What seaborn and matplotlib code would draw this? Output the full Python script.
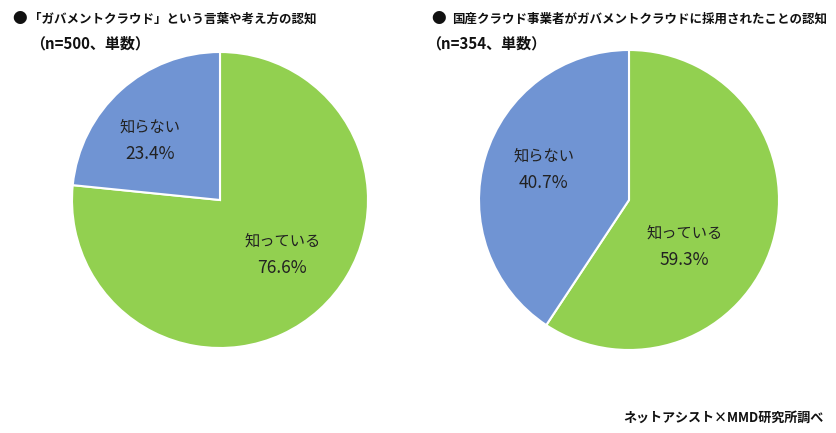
import matplotlib.pyplot as plt
import seaborn as sns

sns.set_theme(style="white")
plt.rcParams['font.family'] = ['Noto Sans CJK JP', 'DejaVu Sans']

# データ
categories = ['知っている', '知らない']
left_values = [76.6, 23.4]
right_values = [59.3, 40.7]
left_title = '「ガバメントクラウド」という言葉や考え方の認知'
left_sub = '（n=500、単数）'
right_title = '国産クラウド事業者がガバメントクラウドに採用されたことの認知'
right_sub = '（n=354、単数）'
source = 'ネットアシスト×MMD研究所調べ'

colors = ['#92D050', '#7094D3']

W, H = 836, 433
fig = plt.figure(figsize=(W / 100, H / 100), dpi=100)


def px_axes(x0, y0, size):
    # 画素座標（左上基準）で軸を配置
    return fig.add_axes([x0 / W, (H - y0 - size) / H, size / W, size / H])


def draw_pie(ax, values, label_pos):
    ax.pie(values, colors=colors, startangle=90, counterclock=False,
           wedgeprops=dict(edgecolor='white', linewidth=1.5))
    for (x, y), cat, v in zip(label_pos, categories, values):
        ax.text(x, y + 0.09, cat, ha='center', va='center',
                fontsize=11, color='#222222')
        ax.text(x, y - 0.09, f'{v:.1f}%', ha='center', va='center',
                fontsize=12.5, color='#222222')
    ax.set_xlim(-1, 1)
    ax.set_ylim(-1, 1)
    ax.set_aspect('equal')
    ax.axis('off')


ax1 = px_axes(72, 52, 296)
draw_pie(ax1, left_values, [(0.42, -0.37), (-0.47, 0.40)])

ax2 = px_axes(479, 50, 300)
draw_pie(ax2, right_values, [(0.37, -0.31), (-0.57, 0.20)])

# タイトル
tkw = dict(fontweight='bold', color='#111111', va='center')
fig.text(12 / W, 1 - 18 / H, '●', fontsize=10.5, **tkw)
fig.text(29 / W, 1 - 19 / H, left_title, fontsize=9.0, **tkw)
fig.text(30 / W, 1 - 43 / H, left_sub, fontsize=10.8, **tkw)
fig.text(431 / W, 1 - 18 / H, '●', fontsize=10.5, **tkw)
fig.text(452 / W, 1 - 19 / H, right_title, fontsize=9.0, **tkw)
fig.text(426 / W, 1 - 43 / H, right_sub, fontsize=10.8, **tkw)

fig.text(824 / W, 1 - 418 / H, source, ha='right', va='center',
         fontsize=9.4, fontweight='bold', color='#111111')

fig.savefig('out.png', dpi=100)
